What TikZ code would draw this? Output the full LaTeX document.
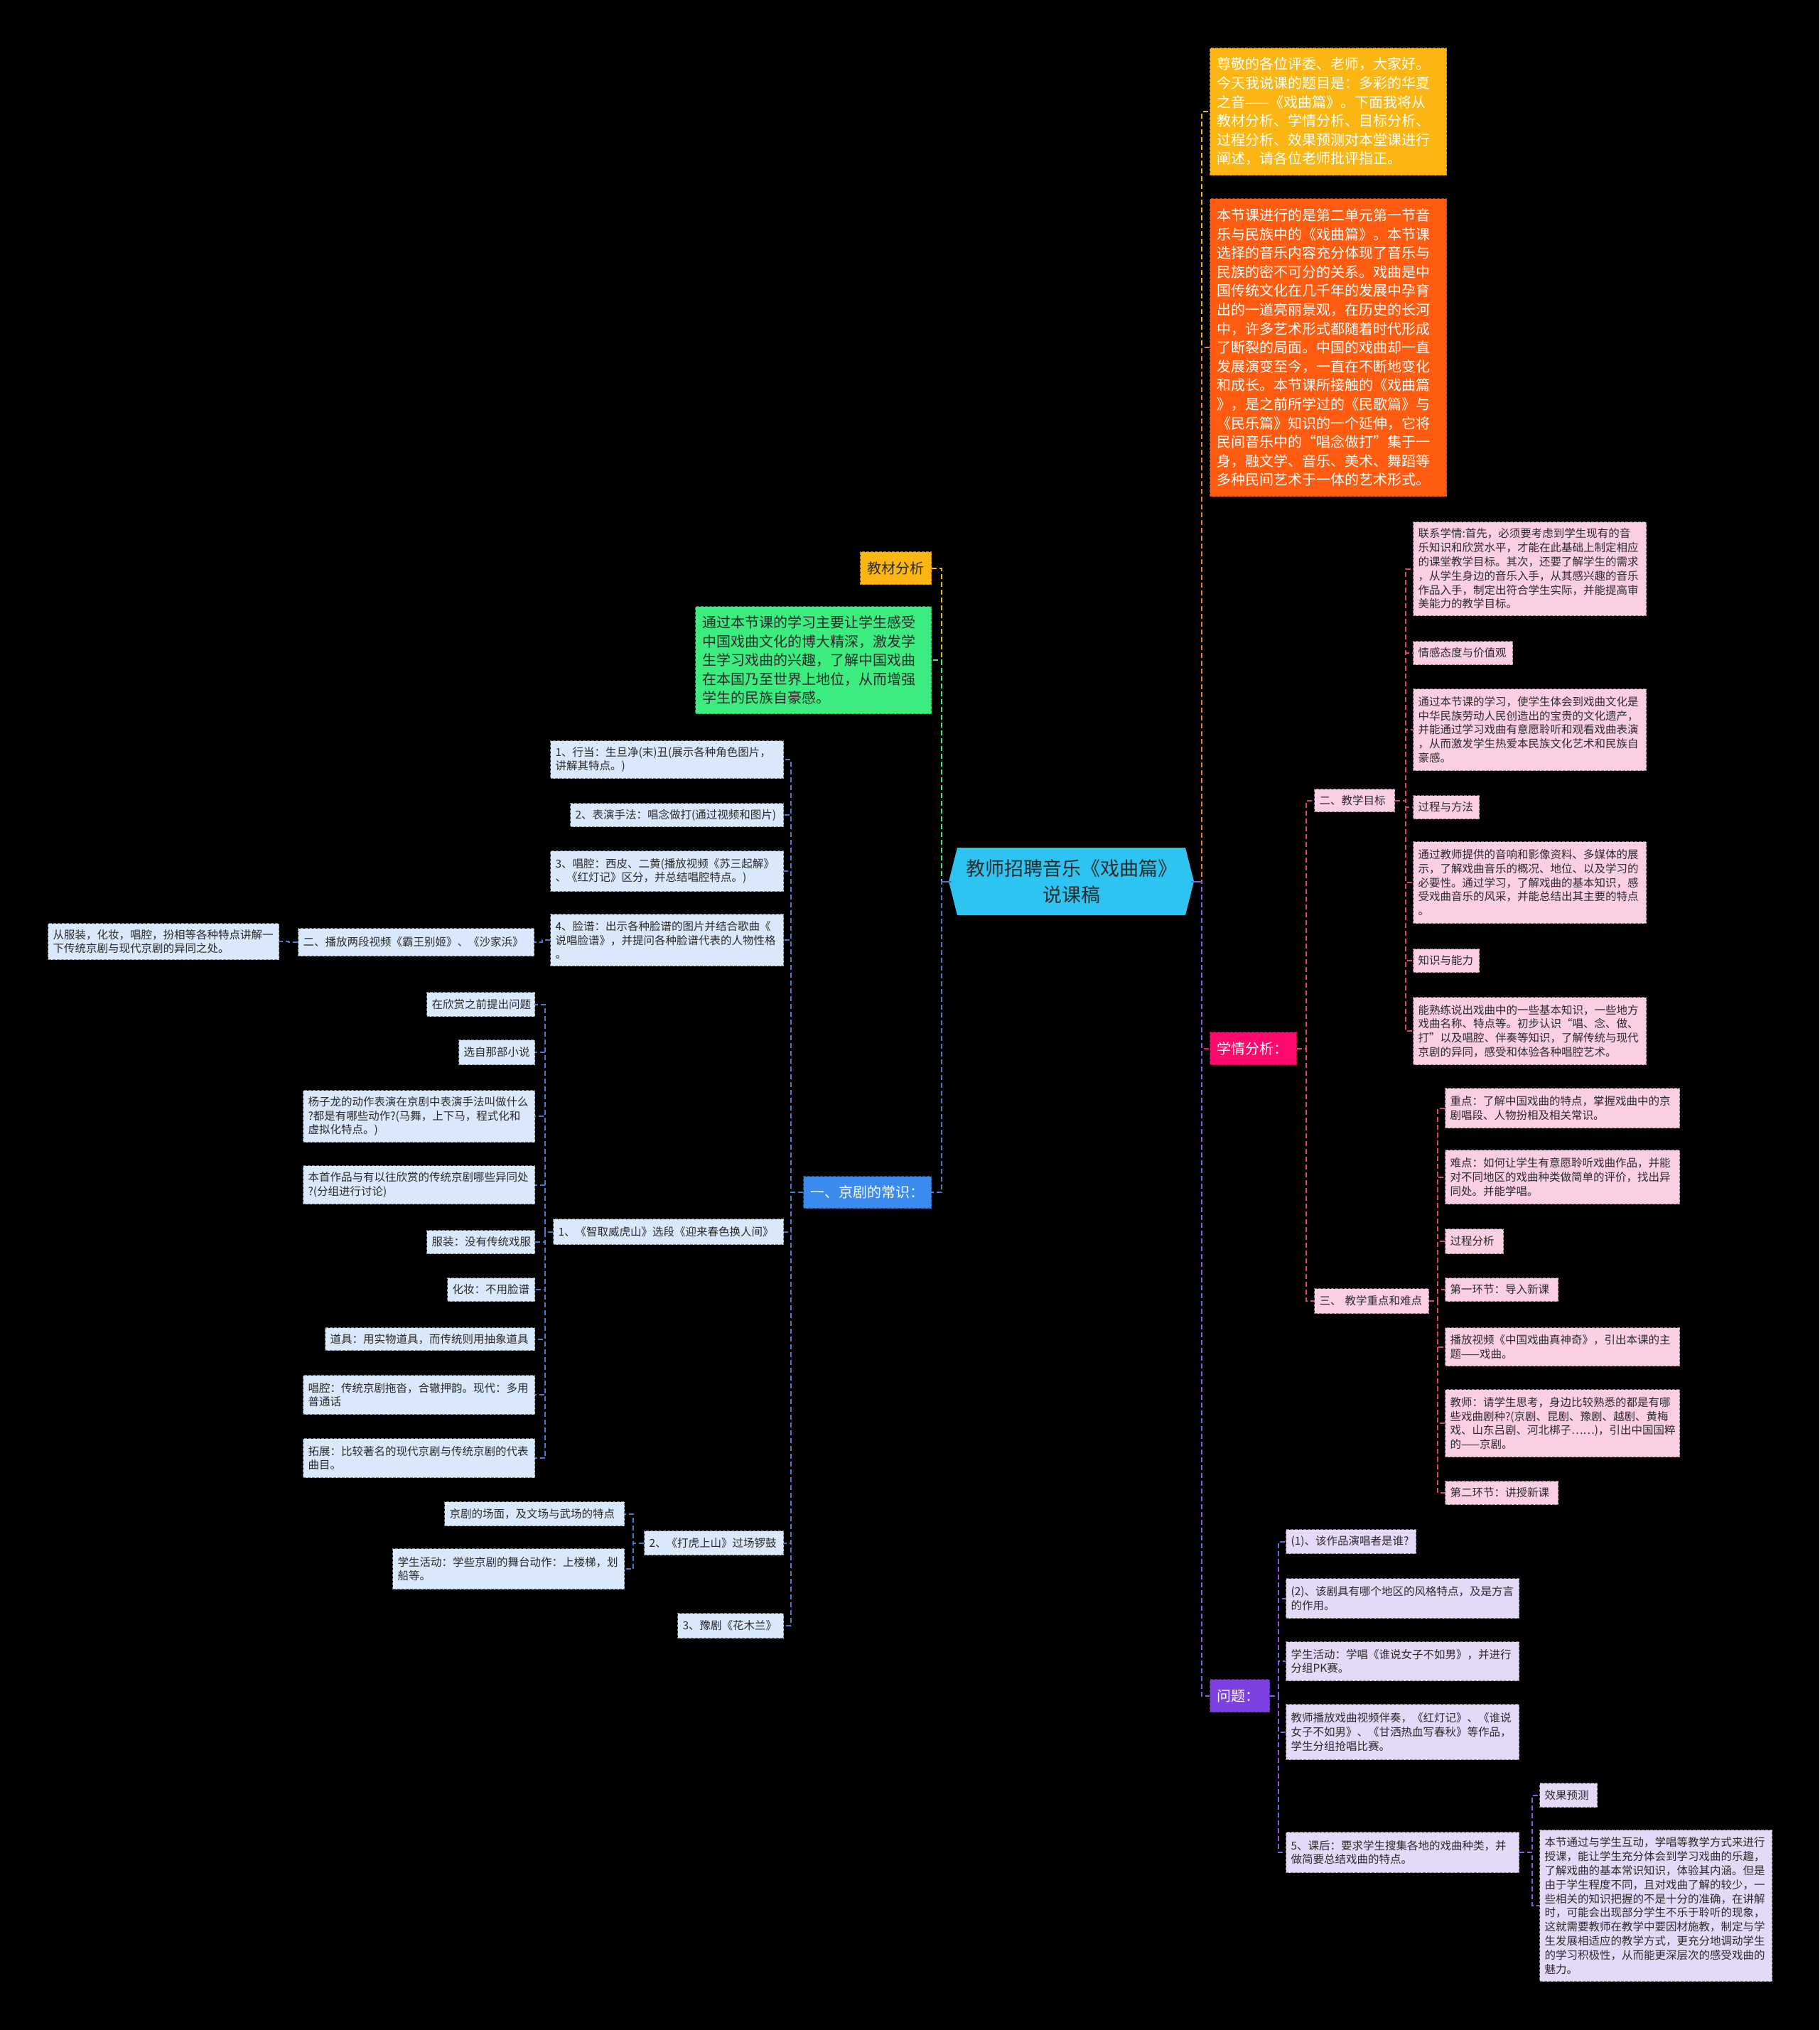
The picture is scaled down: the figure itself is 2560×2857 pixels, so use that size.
\documentclass[tikz,border=0pt]{standalone}
\usepackage{fontspec}
\setmainfont{Noto Sans CJK SC}
\definecolor{rootc}{HTML}{2EC4F2}
\definecolor{yel}{HTML}{FBB614}
\definecolor{org}{HTML}{FF5C12}
\definecolor{grn}{HTML}{3DEC7E}
\definecolor{blu}{HTML}{3B8BEF}
\definecolor{lblu}{HTML}{DAE8FB}
\definecolor{pnk}{HTML}{FF0A6C}
\definecolor{lpnk}{HTML}{FBCFE3}
\definecolor{pur}{HTML}{7E40E2}
\definecolor{lpur}{HTML}{E5D9F8}
\definecolor{txt}{HTML}{2B2B2B}
\definecolor{cblu}{HTML}{4F78C8}
\definecolor{cpnk}{HTML}{D9467A}
\definecolor{cpur}{HTML}{8A5BDD}
\definecolor{cyel}{HTML}{F5B41A}
\definecolor{corg}{HTML}{F07A2A}
\def\bxpad{8}
\newcommand\bx[7]{%
\pgfmathsetmacro\bxw{#5-#3-2*\bxpad}%
\pgfmathsetmacro\bxh{#6-#4}%
\node[#2,anchor=north west,text width=\bxw pt,minimum height=\bxh pt,inner xsep=\bxpad pt,inner ysep=0pt,align=left] (#1) at (#3,#4) {#7};}
\tikzset{
 bigf/.style={font=\fontsize{20}{26.6}\selectfont},
 smf/.style={font=\fontsize{15.5}{19.8}\selectfont, text=txt},
 bd/.style={dash pattern=on 4pt off 2pt, line width=1pt},
 yelbox/.style={bigf, fill=yel, draw=yel!70!black, bd, text=white},
 orgbox/.style={bigf, fill=org, draw=org!70!black, bd, text=white},
 grnbox/.style={bigf, fill=grn, draw=grn!60!black, bd, text=txt},
 jcbox/.style={bigf, fill=yel, draw=yel!70!black, bd, text=txt},
 blubox/.style={bigf, fill=blu, draw=blu!60!black, bd, text=white},
 pnkbox/.style={bigf, fill=pnk, draw=pnk!60!black, bd, text=white},
 purbox/.style={bigf, fill=pur, draw=pur!60!black, bd, text=white},
 lb/.style={smf, fill=lblu, draw=lblu!55!black, bd},
 lp/.style={smf, fill=lpnk, draw=lpnk!55!black, bd},
 lv/.style={smf, fill=lpur, draw=lpur!55!black, bd},
 conn/.style={line width=2pt, dash pattern=on 7pt off 4pt},
 stub/.style={line width=2pt}
}
\begin{document}
\begin{tikzpicture}[x=1pt,y=-1pt]
\useasboundingbox (0,0) rectangle (2560,2857);
\fill[black] (0,0) rectangle (2560,2857);
% root shape
\fill[rootc] (1347,1193) -- (1668,1193) -- (1680,1240.5) -- (1668,1288) -- (1347,1288) -- (1335,1240.5) -- cycle;
\node[minimum width=337pt, minimum height=95pt, inner sep=0pt, align=center, text=txt, font=\fontsize{27}{37}\selectfont] (root) at (1507.5,1240.5) {教师招聘音乐《戏曲篇》\\说课稿};

% ---------- right side main ----------
\def\bxpad{10}
\bx{yb}{yelbox}{1702}{67}{2035}{246}{尊敬的各位评委、老师，大家好。\\今天我说课的题目是：多彩的华夏\\之音——《戏曲篇》。下面我将从\\教材分析、学情分析、目标分析、\\过程分析、效果预测对本堂课进行\\阐述，请各位老师批评指正。}
\bx{ob}{orgbox}{1702}{279}{2035}{698}{本节课进行的是第二单元第一节音\\乐与民族中的《戏曲篇》。本节课\\选择的音乐内容充分体现了音乐与\\民族的密不可分的关系。戏曲是中\\国传统文化在几千年的发展中孕育\\出的一道亮丽景观，在历史的长河\\中，许多艺术形式都随着时代形成\\了断裂的局面。中国的戏曲却一直\\发展演变至今，一直在不断地变化\\和成长。本节课所接触的《戏曲篇\\》，是之前所学过的《民歌篇》与\\《民乐篇》知识的一个延伸，它将\\民间音乐中的“唱念做打”集于一\\身，融文学、音乐、美术、舞蹈等\\多种民间艺术于一体的艺术形式。}
\bx{xq}{pnkbox}{1702}{1452}{1824}{1498}{学情分析：}
\bx{wt}{purbox}{1702}{2363}{1786}{2409}{问题：}

% ---------- left side main ----------
\bx{jcfx}{jcbox}{1210}{776}{1310}{822}{教材分析}
\bx{gr}{grnbox}{978}{853}{1310}{1004}{通过本节课的学习主要让学生感受\\中国戏曲文化的博大精深，激发学\\生学习戏曲的兴趣，了解中国戏曲\\在本国乃至世界上地位，从而增强\\学生的民族自豪感。}
\bx{cs}{blubox}{1130}{1655}{1310}{1700}{一、京剧的常识：}

\def\bxpad{7}
% ---------- 学情分析 subtree ----------
\bx{mb}{lp}{1849}{1110}{1962}{1142}{二、教学目标}
\bx{zd}{lp}{1849}{1813}{2010}{1848}{三、 教学重点和难点}
\bx{m1}{lp}{1988}{734}{2316}{866}{联系学情:首先，必须要考虑到学生现有的音\\乐知识和欣赏水平，才能在此基础上制定相应\\的课堂教学目标。其次，还要了解学生的需求\\，从学生身边的音乐入手，从其感兴趣的音乐\\作品入手，制定出符合学生实际，并能提高审\\美能力的教学目标。}
\bx{m2}{lp}{1988}{902}{2128}{935}{情感态度与价值观}
\bx{m3}{lp}{1988}{969}{2316}{1084}{通过本节课的学习，使学生体会到戏曲文化是\\中华民族劳动人民创造出的宝贵的文化遗产，\\并能通过学习戏曲有意愿聆听和观看戏曲表演\\，从而激发学生热爱本民族文化艺术和民族自\\豪感。}
\bx{m4}{lp}{1988}{1119}{2081}{1152}{过程与方法}
\bx{m5}{lp}{1988}{1184}{2316}{1299}{通过教师提供的音响和影像资料、多媒体的展\\示，了解戏曲音乐的概况、地位、以及学习的\\必要性。通过学习，了解戏曲的基本知识，感\\受戏曲音乐的风采，并能总结出其主要的特点\\。}
\bx{m6}{lp}{1988}{1335}{2081}{1368}{知识与能力}
\bx{m7}{lp}{1988}{1403}{2316}{1498}{能熟练说出戏曲中的一些基本知识，一些地方\\戏曲名称、特点等。初步认识“唱、念、做、\\打”以及唱腔、伴奏等知识，了解传统与现代\\京剧的异同，感受和体验各种唱腔艺术。}
\bx{z1}{lp}{2033}{1531}{2363}{1587}{重点：了解中国戏曲的特点，掌握戏曲中的京\\剧唱段、人物扮相及相关常识。}
\bx{z2}{lp}{2033}{1618}{2363}{1694}{难点：如何让学生有意愿聆听戏曲作品，并能\\对不同地区的戏曲种类做简单的评价，找出异\\同处。并能学唱。}
\bx{z3}{lp}{2033}{1729}{2115}{1764}{过程分析}
\bx{z4}{lp}{2033}{1798}{2192}{1831}{第一环节：导入新课}
\bx{z5}{lp}{2033}{1868}{2363}{1922}{播放视频《中国戏曲真神奇》，引出本课的主\\题——戏曲。}
\bx{z6}{lp}{2033}{1955}{2363}{2050}{教师：请学生思考，身边比较熟悉的都是有哪\\些戏曲剧种?(京剧、昆剧、豫剧、越剧、黄梅\\戏、山东吕剧、河北梆子……)，引出中国国粹\\的——京剧。}
\bx{z7}{lp}{2033}{2084}{2192}{2117}{第二环节：讲授新课}

% ---------- 问题 subtree ----------
\bx{w1}{lv}{1809}{2152}{1992}{2186}{(1)、该作品演唱者是谁?}
\bx{w2}{lv}{1809}{2221}{2137}{2277}{(2)、该剧具有哪个地区的风格特点，及是方言\\的作用。}
\bx{w3}{lv}{1809}{2310}{2137}{2365}{学生活动：学唱《谁说女子不如男》，并进行\\分组PK赛。}
\bx{w4}{lv}{1809}{2398}{2137}{2476}{教师播放戏曲视频伴奏，《红灯记》、《谁说\\女子不如男》、《甘洒热血写春秋》等作品，\\学生分组抢唱比赛。}
\bx{w5}{lv}{1809}{2578}{2137}{2635}{5、课后：要求学生搜集各地的戏曲种类，并\\做简要总结戏曲的特点。}
\bx{k1}{lv}{2166}{2509}{2247}{2543}{效果预测}
\bx{k2}{lv}{2166}{2575}{2493}{2788}{本节通过与学生互动，学唱等教学方式来进行\\授课，能让学生充分体会到学习戏曲的乐趣，\\了解戏曲的基本常识知识，体验其内涵。但是\\由于学生程度不同，且对戏曲了解的较少，一\\些相关的知识把握的不是十分的准确，在讲解\\时，可能会出现部分学生不乐于聆听的现象，\\这就需要教师在教学中要因材施教，制定与学\\生发展相适应的教学方式，更充分地调动学生\\的学习积极性，从而能更深层次的感受戏曲的\\魅力。}

% ---------- 京剧的常识 subtree ----------
\bx{a1}{lb}{774}{1042}{1102}{1095}{1、行当：生旦净(末)丑(展示各种角色图片，\\讲解其特点。)}
\bx{a2}{lb}{802}{1130}{1102}{1163}{2、表演手法：唱念做打(通过视频和图片)}
\bx{a3}{lb}{774}{1197}{1102}{1254}{3、唱腔：西皮、二黄(播放视频《苏三起解》\\、《红灯记》区分，并总结唱腔特点。)}
\bx{a4}{lb}{774}{1286}{1102}{1359}{4、脸谱：出示各种脸谱的图片并结合歌曲《\\说唱脸谱》，并提问各种脸谱代表的人物性格\\。}
\bx{b1}{lb}{419}{1306}{751}{1345}{二、播放两段视频《霸王别姬》、《沙家浜》}
\bx{c1}{lb}{67}{1299}{392}{1350}{从服装，化妆，唱腔，扮相等各种特点讲解一\\下传统京剧与现代京剧的异同之处。}
\bx{zq}{lb}{778}{1715}{1102}{1751}{1、《智取威虎山》选段《迎来春色换人间》}
\bx{q1}{lb}{600}{1396}{752}{1430}{在欣赏之前提出问题}
\bx{q2}{lb}{645}{1463}{752}{1498}{选自那部小说}
\bx{q3}{lb}{426}{1534}{752}{1607}{杨子龙的动作表演在京剧中表演手法叫做什么\\?都是有哪些动作?(马舞，上下马，程式化和\\虚拟化特点。)}
\bx{q4}{lb}{426}{1640}{752}{1694}{本首作品与有以往欣赏的传统京剧哪些异同处\\?(分组进行讨论)}
\bx{q5}{lb}{600}{1731}{752}{1764}{服装：没有传统戏服}
\bx{q6}{lb}{629}{1798}{752}{1831}{化妆：不用脸谱}
\bx{q7}{lb}{457}{1868}{752}{1900}{道具：用实物道具，而传统则用抽象道具}
\bx{q8}{lb}{426}{1935}{752}{1990}{唱腔：传统京剧拖沓，合辙押韵。现代：多用\\普通话}
\bx{q9}{lb}{426}{2024}{752}{2079}{拓展：比较著名的现代京剧与传统京剧的代表\\曲目。}
\bx{dh}{lb}{906}{2154}{1102}{2188}{2、《打虎上山》过场锣鼓}
\bx{h1}{lb}{625}{2113}{878}{2147}{京剧的场面，及文场与武场的特点}
\bx{h2}{lb}{552}{2179}{878}{2236}{学生活动：学些京剧的舞台动作：上楼梯，划\\船等。}
\bx{hm}{lb}{953}{2270}{1102}{2305}{3、豫剧《花木兰》}

% ---------- connectors ----------
% root left
\draw[conn,cyel] (root.west) -- ++(-14,0) |- (jcfx.east);
\draw[conn,grn] (root.west) -- ++(-14,0) |- (gr.east);
\draw[conn,cblu] (root.west) -- ++(-14,0) |- (cs.east);
\draw[stub,cblu] (root.west) -- ++(-14,0);
% root right
\draw[conn,cyel] (root.east) -- ++(15,0) |- (yb.west);
\draw[conn,corg] (root.east) -- ++(15,0) |- (ob.west);
\draw[conn,pnk] (root.east) -- ++(15,0) |- (xq.west);
\draw[conn,cpur] (root.east) -- ++(15,0) |- (wt.west);
\draw[stub,cpur] (root.east) -- ++(15,0);
% 学情分析
\foreach \c in {mb,zd} \draw[conn,cpnk] (xq.east) -- ++(13,0) |- (\c.west);
\foreach \c in {m1,m2,m3,m4,m5,m6,m7} \draw[conn,cpnk] (mb.east) -- ++(15,0) |- (\c.west);
\foreach \c in {z1,z2,z3,z4,z5,z6,z7} \draw[conn,cpnk] (zd.east) -- ++(12,0) |- (\c.west);
% 问题
\foreach \c in {w1,w2,w3,w4,w5} \draw[conn,cpur] (wt.east) -- ++(12,0) |- (\c.west);
\foreach \c in {k1,k2} \draw[conn,cpur] (w5.east) -- ++(18,0) |- (\c.west);
% 京剧的常识
\foreach \c in {a1,a2,a3,a4,zq,dh,hm} \draw[conn,cblu] (cs.west) -- ++(-17,0) |- (\c.east);
\draw[conn,cblu] (a4.west) -- ++(-11,0) |- (b1.east);
\draw[conn,cblu] (b1.west) -- ++(-13,0) |- (c1.east);
\foreach \c in {q1,q2,q3,q4,q5,q6,q7,q8,q9} \draw[conn,cblu] (zq.west) -- ++(-11,0) |- (\c.east);
\foreach \c in {h1,h2} \draw[conn,cblu] (dh.west) -- ++(-15,0) |- (\c.east);
\end{tikzpicture}
\end{document}
